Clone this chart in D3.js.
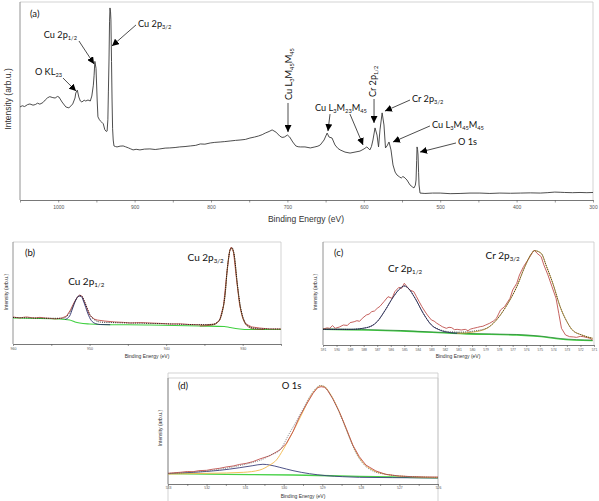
<!DOCTYPE html>
<html><head><meta charset="utf-8">
<script src="https://cdn.jsdelivr.net/npm/d3@7"></script>
<style>body{margin:0;background:#fff}svg{display:block}</style>
</head><body><svg id="chart" width="599" height="501"></svg>
<script>
// ---------- DATA ----------
// (a) survey spectrum [binding energy eV, intensity a.u.]
const surveySpectrum = [[1050,47],[1047,47.6],[1044,47.2],[1040,48.2],[1037,48.5],[1033,47.9],[1030,48.2],[1027,48.9],[1024,48.4],[1020,49.2],[1017,50.5],[1014,51.6],[1011,52.2],[1007,51.7],[1004,51.5],[1001,52.3],[999,52],[995,49.5],[990,47],[986,46.5],[981,48.5],[978,51.5],[977,54],[975,55.5],[973,52],[971,50],[969,49.5],[966,50.4],[964,50],[961,50.5],[958,50],[956,52.5],[954,58],[953,63],[952,70],[950.5,66.5],[949,50.5],[948,42],[946,40.5],[945,40],[943,39.3],[941,38.5],[939,35.5],[937,34.6],[936,34.8],[935,40.5],[934.3,55],[933.5,70.7],[932.8,90],[932.2,97],[931.5,95],[931,91],[930.2,70],[929.5,50.5],[928.8,36],[928,30.3],[927,27.3],[925,27],[923,26.8],[919,27.2],[915,27.3],[912,26.9],[908,26.3],[905,25.8],[902,25.3],[898,25.6],[893,25.3],[887,25.7],[880,25.8],[873,25.5],[867,25.8],[860,26.2],[854,26.3],[847,26.5],[841,26.8],[834,27],[827,27.3],[820,27.6],[814,28.3],[808,28.2],[801,28.8],[795,29.1],[788,29.3],[782,29.5],[775,29.8],[768,30.1],[762,30.3],[755,30.6],[749,31.3],[743,31.8],[738,32.3],[733,33],[729,33.8],[724,34.6],[720,35.4],[715,34.3],[710,32.3],[707,31.6],[704,31.8],[700,32.8],[697,31.8],[693,29.3],[689,27.3],[686,26.9],[683,26.8],[677,26.8],[670,26.3],[664,26.8],[660,27.2],[657,27.8],[652,30.3],[648,33.8],[645.5,31.8],[641.6,31.3],[637.7,27.8],[634,26.1],[631,25.3],[624.6,24.2],[618,23.7],[611.5,24.2],[605,24.7],[599.7,25.8],[596,26.8],[592,25.3],[590,27],[588,30.3],[585.3,36.4],[582.7,32.8],[580.7,26.8],[578.8,35.4],[576,44],[573.6,37.9],[571.6,26.3],[569.6,27.3],[567,29.3],[564.4,25.3],[561.8,17.7],[559,14.1],[556.5,12.6],[553,11.6],[551,11.1],[549,11.8],[547.4,11.6],[543.5,10.1],[539.5,7.6],[536,6.5],[534.3,6.1],[532.5,7.5],[531.6,10.1],[530.8,20],[530.3,26.8],[529.6,25.5],[529,22.7],[528.3,14],[527.7,7.6],[526.4,3.5],[520,3.3],[510,3.5],[500,3.5],[487,3.2],[474,3.3],[461,3.5],[448,3.5],[435,3.3],[422,3.5],[408,3.4],[395,3.5],[382,3.6],[369,3.5],[360,3.7],[350,4],[343,3.9],[337,3.8],[327,3.7],[317,3.8],[308,3.7],[300,3.8]];

// (a) peak labels: text, text position, anchor, arrow start, arrow tip (data coords)
const surveyLabels = [
  {text:"Cu 2p_{1/2}", at:[975.4,81.8], anchor:"end", from:[972.8,80.3], tip:[953.1,68.7]},
  {text:"O KL_{23}", at:[995,63.1], anchor:"end", from:[993.7,61.6], tip:[976.7,55]},
  {text:"Cu 2p_{3/2}", at:[895.5,87.4], anchor:"start", from:[898.2,88.4], tip:[929.6,77.8]},
  {text:"Cu L_{3}M_{45}M_{45}", at:[694,50.5], anchor:"start", rotate:true, from:[699.2,49], tip:[699.2,34.3]},
  {text:"Cu L_{3}M_{23}M_{45}", at:[663.9,44.9], anchor:"start", from:[644.2,43.4], tip:[646.9,34.8]},
  {text:"", at:[618.1,43.4], anchor:"start", from:[618.1,43.4], tip:[601,27.8]},
  {text:"Cr 2p_{1/2}", at:[584,52], anchor:"start", rotate:true, from:[586.6,51], tip:[586.6,38.9]},
  {text:"Cr 2p_{3/2}", at:[536.9,49.5], anchor:"start", from:[539.5,50.5], tip:[572.3,44.9]},
  {text:"Cu L_{3}M_{45}M_{45}", at:[510.7,36.4], anchor:"start", from:[513.4,37.4], tip:[561.8,29.3]},
  {text:"O 1s", at:[476.7,27.8], anchor:"start", from:[479.3,28.8], tip:[526.4,24.2]}
];
const surveyTicks = [1050,1000,950,900,850,800,750,700,650,600,550,500,450,400,350,300];
const surveyTickLabels = [1000,900,800,700,600,500,400,300];

// (b) Cu 2p
const cuExp = [[960,26.5],[959.1,25.5],[958.6,26.2],[958.2,26.5],[957.6,25.8],[957.1,25.5],[956.5,26.1],[955.8,25.5],[955.1,25.1],[954.5,24.5],[953.6,25.5],[953,27.5],[952.5,33.3],[952,41],[951.6,46],[951.3,48],[951,47],[950.7,42],[950.3,34.3],[950,28.4],[949.4,24.5],[949,23.5],[948,22.5],[946.7,21.6],[945.6,21.2],[944.7,20.6],[943.3,21],[942.1,20.6],[940.8,20.2],[939.5,19.6],[938.2,19.8],[936.9,19.1],[935,18.6],[933.6,19.6],[933,23.5],[932.5,38],[932.1,67.6],[931.7,92],[931.5,95],[931.2,90],[930.8,63],[930.4,38],[930,25.5],[929.6,19.6],[928.8,16.7],[927.8,15.7],[926.5,14.7],[925,14.7]];
const cuFit12 = [[953.2,24],[952.6,27.5],[952.2,35.3],[951.8,43.1],[951.4,47],[951.1,46.6],[950.7,40.2],[950.3,31.4],[949.9,24.5],[949.4,20.6],[948.6,19.1],[947.3,18.9]];
const cuFit32 = [[935.6,17.6],[934,18.6],[933.2,21.6],[932.7,30.4],[932.3,48],[932,74.5],[931.6,93],[931.4,94],[931.1,86.3],[930.7,57.8],[930.3,35.3],[929.9,23.5],[929.4,17.6],[928.5,14.7],[927.2,14.2]];
const cuEnvelope = [[960,26],[955,25.2],[953.5,25.2],[953,27],[952.5,32],[952,40],[951.6,45.5],[951.3,47.5],[951,47],[950.7,42.5],[950.3,35],[949.9,28],[949.4,24],[948.6,21.5],[947,21],[944,20.5],[940,19.8],[936,19],[934,19.2],[933.2,22],[932.7,31],[932.3,49],[932,75],[931.6,93],[931.4,94.5],[931.1,87],[930.7,59],[930.3,37],[929.9,25],[929.4,18.5],[928.5,15.5],[927,14.8],[925,14.7]];
const cuBackground = [[960,25.5],[953.9,24.5],[952.6,23.5],[951.9,21.6],[951.3,20.6],[950,19.6],[948.7,19.1],[942.2,18.6],[935.6,17.6],[932.4,17.2],[931.7,16.2],[930.4,14.7],[929.1,14.2],[925,14.2]];
const cuLabels = [{text:"Cu 2p_{1/2}", at:[952.8,57.8]},{text:"Cu 2p_{3/2}", at:[937.2,81.4]}];
const cuTicks = [960,955,950,945,940,935,930,925];
const cuTickLabels = [960,950,940,930];

// (c) Cr 2p
const crExp = [[591,15.5],[590.7,16.6],[590.5,16.2],[590.3,18.8],[590.1,16.2],[589.8,17.4],[589.5,19.4],[589.2,19],[589,21.7],[588.7,22.6],[588.5,23.6],[588.3,23],[588.1,25.9],[587.8,29.1],[587.6,30],[587.4,32.4],[587.2,33],[587,35.6],[586.8,37.5],[586.5,42.1],[586.2,46.9],[585.9,45.3],[585.7,51.8],[585.4,56],[585.2,55],[585,59.9],[584.8,56.6],[584.6,53.4],[584.3,51.8],[584.1,46.9],[583.9,42],[583.7,37.2],[583.5,33],[583.3,29.1],[583,24.3],[582.8,23.2],[582.6,21.1],[582.4,19.5],[582.2,17.8],[581.9,16.2],[581.7,17.2],[581.5,16.8],[581.3,14.9],[581.1,15.2],[580.8,14.6],[580.5,15.2],[580.3,13.9],[580.1,15.5],[579.9,16.2],[579.6,17.1],[579.4,17.8],[579.2,18.2],[579,19.4],[578.7,21.1],[578.4,23.5],[578.2,25.9],[577.9,34],[577.6,37.2],[577.2,45.3],[577,53.4],[576.7,59.9],[576.5,68],[576.2,76.1],[575.8,84.2],[575.5,90.6],[575.4,92.2],[575.2,89],[574.9,85.8],[574.7,77.7],[574.4,68],[574.1,56.6],[573.8,45.3],[573.6,30.7],[573.4,16.2],[573.1,9.7],[572.8,8.1],[572.5,7.8],[572.3,7.4],[572,8.4],[571.8,8.1],[571.5,7.2],[571.3,6.5],[571.1,4.9]];
const crFit12 = [[591,15.2],[589,15.2],[587.8,16.8],[587,22.7],[586.4,34],[585.8,46.9],[585.3,55],[585,57.3],[584.7,55],[584.2,45.3],[583.6,30.7],[583,19.4],[582.4,14.6],[581.6,12],[580.9,11.3]];
const crFit32 = [[581.1,11.3],[579.9,12.6],[578.9,16.2],[578.2,24.3],[577.5,37.2],[576.7,56.6],[576.1,76.1],[575.6,89],[575.4,91.6],[574.9,89],[574.5,76.1],[574,58.3],[573.5,37.2],[573,22.7],[572.6,14.6],[571.9,9.7],[571.1,6.5]];
const crEnvelope = [[591,15.2],[589,15.2],[587.8,16.8],[587,22.7],[586.4,34],[585.8,46.9],[585.3,55],[585,57.3],[584.7,55],[584.2,45.3],[583.6,30.7],[583,19.6],[582.4,15],[581.6,12.8],[580.9,12.5],[579.9,13.5],[578.9,16.5],[578.2,24.3],[577.5,37.2],[576.7,56.6],[576.1,76.1],[575.6,89],[575.4,91.6],[574.9,89],[574.5,76.1],[574,58.3],[573.5,37.2],[573,22.7],[572.6,14.6],[571.9,9.7],[571.1,6.5]];
const crBackground = [[591,15.2],[585.3,13.6],[580.4,10.7],[576.7,9.7],[574.9,8.1],[573.5,5.8],[571.1,4.2]];
const crLabels = [{text:"Cr 2p_{1/2}", at:[586.2,70.9]},{text:"Cr 2p_{3/2}", at:[579.0,83.5]}];
const crTicks = [591,590,589,588,587,586,585,584,583,582,581,580,579,578,577,576,575,574,573,572,571];
const crTickLabels = [591,590,589,588,587,586,585,584,583,582,581,580,579,578,577,576,575,574,573,572,571];

// (d) O 1s
const oExp = [[533,10.1],[532.85,10.6],[532.69,11],[532.5,11.8],[532.35,11.6],[532.2,12.6],[532,12.9],[531.85,13.9],[531.66,14.8],[531.5,16],[531.31,17],[531.15,18.4],[530.97,19.5],[530.8,21.1],[530.62,23.6],[530.36,26.7],[530.1,32.1],[529.93,38.4],[529.76,49.4],[529.59,63.5],[529.42,74.5],[529.24,85.5],[529.12,90.9],[529.03,91.8],[528.94,91.2],[528.86,88.1],[528.73,80.5],[528.56,68.2],[528.38,52.5],[528.21,36.8],[528.04,25.8],[527.87,17.9],[527.61,12.3],[527.35,9.1],[527,7.5],[526.66,6.9],[526.32,6.6],[526,6.6]];
const oFitHigh = [[533,9.7],[532.35,11],[531.66,12.9],[531.14,15.4],[530.8,17.3],[530.54,18.6],[530.36,17.9],[530.1,15.7],[529.76,12.6],[529.33,9.7],[528.9,7.9],[528.47,6.9],[528.04,6.3],[527.18,6],[526,5.7]];
const oFitMain = [[533,9.4],[531.91,10.1],[531.05,11],[530.62,13.2],[530.36,17.9],[530.19,22.6],[530.02,32.1],[529.85,43.1],[529.67,55.7],[529.5,68.2],[529.33,80.8],[529.16,89.6],[529.05,92.5],[528.94,91.8],[528.82,86.5],[528.64,74.5],[528.47,60.4],[528.3,44.7],[528.13,30.5],[527.95,20.4],[527.7,13.2],[527.35,9.1],[527,7.5],[526.49,6.6],[526,6]];
const oEnvelope = [[533,10],[532,12.2],[531.14,17.4],[530.8,20.4],[530.54,23.3],[530.36,27.1],[530.1,32.1],[529.85,48],[529.67,59.2],[529.5,70.6],[529.33,82.2],[529.16,90.4],[529.05,93],[528.94,91.9],[528.82,86.4],[528.64,74.1],[528.47,59.7],[528.3,43.9],[528.13,29.6],[527.95,19.5],[527.7,12.4],[527.35,9.1],[527,7.6],[526.5,6.7],[526,6.2]];
const oBackground = [[533,9.7],[531.48,9.1],[529.76,8.5],[528.04,7.2],[527.18,6.6],[526,5.7]];
const oLabels = [{text:"O 1s", at:[530.05,89.6]}];
const oTicks = [533,532.5,532,531.5,531,530.5,530,529.5,529,528.5,528,527.5,527,526.5,526];
const oTickLabels = [533,532,531,530,529,528,527,526];

// ---------- DRAWING ----------
const svg = d3.select("#chart");
const FONT = "Lato, 'Open Sans', sans-serif";
const AXFONT = "'Liberation Sans', Arial, sans-serif";

svg.append("defs").append("marker")
  .attr("id","ah").attr("viewBox","0 0 10 10").attr("refX",10).attr("refY",5)
  .attr("markerWidth",7).attr("markerHeight",7).attr("markerUnits","userSpaceOnUse")
  .attr("orient","auto")
  .append("path").attr("d","M0,0 L10,5 L0,10 Z").attr("fill","#000");

function richText(sel, str, size){
  sel.attr("font-size", size);
  const parts = str.split(/(_\{[^}]*\})/).filter(s=>s.length);
  let shift = 0;
  parts.forEach(p=>{
    if(p.startsWith("_{")){
      const d = size*0.22;
      sel.append("tspan").text(p.slice(2,-1)).attr("font-size",size*0.62).attr("dy",d - shift);
      shift = d;
    } else {
      sel.append("tspan").text(p).attr("font-size",size).attr("dy",-shift);
      shift = 0;
    }
  });
}

function panel(cfg){
  const g = svg.append("g");
  const x = d3.scaleLinear().domain(cfg.xdom).range([cfg.l, cfg.r]);
  const y = d3.scaleLinear().domain([0,100]).range([cfg.b, cfg.t]);
  g.append("path").attr("d",`M${cfg.l},${cfg.t}H${cfg.r}V${cfg.b}`)
    .attr("fill","none").attr("stroke","#c8c8c8").attr("stroke-width",0.8);
  g.append("line").attr("x1",cfg.l).attr("x2",cfg.l).attr("y1",cfg.t).attr("y2",cfg.b)
    .attr("stroke","#777").attr("stroke-width",0.8);
  const ax = d3.axisBottom(x).tickValues(cfg.ticks).tickSize(cfg.tickSize||2.5).tickSizeOuter(0)
    .tickFormat(d=> cfg.tickLabels.includes(d) ? String(d) : "");
  const axg = g.append("g").attr("transform",`translate(0,${cfg.b})`).call(ax);
  axg.select(".domain").attr("stroke","#555").attr("stroke-width",0.8);
  axg.selectAll(".tick line").attr("stroke","#555").attr("stroke-width",0.6);
  axg.selectAll(".tick text").filter(function(){return this.textContent==="";}).remove();
  axg.selectAll(".tick text").attr("font-size",cfg.tickFont).attr("font-family",AXFONT)
    .attr("fill","#555").attr("y",cfg.tickY).attr("dy","0.71em");
  g.append("text").attr("x",cfg.xtx).attr("y",cfg.xty).attr("text-anchor","middle")
    .attr("font-family",AXFONT).attr("font-size",cfg.titleFont).attr("fill","#333").text("Binding Energy (eV)");
  g.append("text").attr("transform",`translate(${cfg.ytx},${cfg.yty}) rotate(-90)`).attr("text-anchor","middle")
    .attr("font-family",AXFONT).attr("font-size",cfg.titleFont).attr("fill","#333").text("Intensity (arb.u.)");
  g.append("text").attr("x",cfg.l+cfg.letterDx).attr("y",cfg.t+cfg.letterDy)
    .attr("font-family",FONT).attr("font-size",cfg.letterFont).attr("fill","#111").text(cfg.letter);
  return {g,x,y};
}

function drawLine(p, data, color, width, opts={}){
  const line = d3.line().x(d=>p.x(d[0])).y(d=>p.y(d[1]))
    .curve(opts.smooth ? d3.curveMonotoneX : d3.curveLinear);
  const path = p.g.append("path").datum(data).attr("d",line).attr("fill","none")
    .attr("stroke",color).attr("stroke-width",width).attr("stroke-linejoin","round");
  if(opts.dash) path.attr("stroke-dasharray",opts.dash);
  return path;
}

// ----- panel (a)
const A = panel({l:20,r:593,t:2,b:200,xdom:[1050,300],ticks:surveyTicks,tickLabels:surveyTickLabels,
  tickFont:5,tickSize:2.5,tickY:5,titleFont:8.5,xtx:306,xty:222,ytx:11,yty:99,
  letter:"(a)",letterDx:10,letterDy:15,letterFont:9.5});
drawLine(A, surveySpectrum, "#3a3a3a", 0.9);
surveyLabels.forEach(L=>{
  A.g.append("line").attr("x1",A.x(L.from[0])).attr("y1",A.y(L.from[1]))
    .attr("x2",A.x(L.tip[0])).attr("y2",A.y(L.tip[1]))
    .attr("stroke","#000").attr("stroke-width",0.7).attr("marker-end","url(#ah)");
  if(!L.text) return;
  const t = A.g.append("text").attr("font-family",FONT).attr("fill","#111").attr("text-anchor",L.anchor);
  if(L.rotate) t.attr("transform",`translate(${A.x(L.at[0])},${A.y(L.at[1])}) rotate(-90)`);
  else t.attr("x",A.x(L.at[0])).attr("y",A.y(L.at[1]));
  richText(t, L.text, 9.2);
});

// ----- panel (b)
const B = panel({l:13,r:281,t:242,b:344,xdom:[960,925],ticks:cuTicks,tickLabels:cuTickLabels,
  tickFont:3.6,tickSize:2,tickY:3.5,titleFont:5,xtx:147,xty:358,ytx:7.5,yty:292,
  letter:"(b)",letterDx:12,letterDy:14,letterFont:9.5});
drawLine(B, cuBackground, "#40d040", 1.1, {smooth:true});
drawLine(B, cuExp, "#c0504d", 0.9);
drawLine(B, cuFit12, "#2b2f6b", 0.9, {smooth:true});
drawLine(B, cuFit32, "#8a5a2b", 0.9, {smooth:true});
drawLine(B, cuEnvelope, "#111", 0.9, {smooth:true, dash:"1,1.2"});
cuLabels.forEach(L=>{
  const t=B.g.append("text").attr("x",B.x(L.at[0])).attr("y",B.y(L.at[1])).attr("font-family",FONT).attr("fill","#111");
  richText(t,L.text,10);
});

// ----- panel (c)
const C = panel({l:323,r:594,t:242,b:345,xdom:[591,571],ticks:crTicks,tickLabels:crTickLabels,
  tickFont:3.3,tickSize:2,tickY:3.5,titleFont:5,xtx:458,xty:358,ytx:317,yty:292,
  letter:"(c)",letterDx:11,letterDy:14,letterFont:9.5});
drawLine(C, crBackground, "#47d147", 1.3, {smooth:true});
drawLine(C, crBackground.map(d=>[d[0],d[1]+0.5]), "#1f7a2e", 0.7, {smooth:true});
drawLine(C, crExp, "#c0504d", 0.9);
drawLine(C, crFit12, "#2b2f6b", 0.9, {smooth:true});
drawLine(C, crFit32, "#c9a03a", 0.9, {smooth:true});
drawLine(C, crEnvelope, "#222", 0.8, {smooth:true, dash:"1,1.2"});
crLabels.forEach(L=>{
  const t=C.g.append("text").attr("x",C.x(L.at[0])).attr("y",C.y(L.at[1])).attr("font-family",FONT).attr("fill","#111");
  richText(t,L.text,10);
});

// ----- panel (d)
svg.append("path").attr("d","M168,501V373H438V501").attr("fill","none").attr("stroke","#c8c8c8").attr("stroke-width",0.8);
const D = panel({l:168,r:438,t:378,b:484,xdom:[533,526],ticks:oTicks,tickLabels:oTickLabels,
  tickFont:3.4,tickSize:2,tickY:3,titleFont:5,xtx:303,xty:497.5,ytx:162,yty:428,
  letter:"(d)",letterDx:10,letterDy:11,letterFont:9.5});
drawLine(D, oBackground, "#47d147", 1.3, {smooth:true});
drawLine(D, oFitHigh, "#3b3f7a", 0.9, {smooth:true});
drawLine(D, oFitMain, "#f2b84b", 0.9, {smooth:true});
drawLine(D, oExp, "#c0504d", 0.9);
drawLine(D, oEnvelope, "#666", 0.8, {smooth:true, dash:"1,1.2"});
oLabels.forEach(L=>{
  const t=D.g.append("text").attr("x",D.x(L.at[0])).attr("y",D.y(L.at[1])).attr("font-family",FONT).attr("fill","#111");
  richText(t,L.text,9.5);
});
</script></body></html>
